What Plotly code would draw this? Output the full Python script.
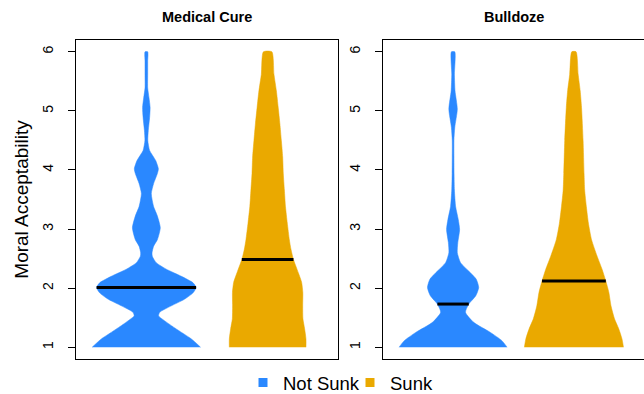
import numpy as np
import plotly.graph_objects as go

# ---------------- data ----------------
panels = ["Medical Cure", "Bulldoze"]
groups = ["Not Sunk", "Sunk"]
positions = [1, 2]
y_ticks = [1, 2, 3, 4, 5, 6]

# density profiles: rating level and violin half-width (x units)
med_notsunk_y = [1.00, 1.14, 1.25, 1.36, 1.47, 1.53, 1.59, 1.70, 1.81, 1.92, 2.01, 2.09, 2.20, 2.32,
                 2.43, 2.54, 2.60, 2.71, 2.82, 3.02, 3.22, 3.38, 3.60, 3.77, 3.94, 4.02, 4.16, 4.33,
                 4.50, 4.67, 4.89, 5.06, 5.22, 5.39, 5.62, 5.84, 6.00]
med_notsunk_w = [0.447, 0.371, 0.290, 0.210, 0.135, 0.101, 0.110, 0.206, 0.313, 0.385, 0.410, 0.385,
                 0.289, 0.165, 0.082, 0.049, 0.047, 0.060, 0.091, 0.115, 0.091, 0.060, 0.041, 0.060,
                 0.091, 0.099, 0.077, 0.027, 0.012, 0.016, 0.027, 0.031, 0.022, 0.011, 0.011, 0.011,
                 0.011]

med_sunk_y = [1.00, 1.14, 1.31, 1.48, 1.70, 1.93, 2.10, 2.26, 2.49, 2.66, 2.82, 3.10, 3.38, 3.66,
              3.94, 4.22, 4.50, 4.78, 5.06, 5.34, 5.62, 6.00]
med_sunk_w = [0.316, 0.316, 0.305, 0.291, 0.289, 0.290, 0.280, 0.253, 0.212, 0.192, 0.179, 0.162,
              0.147, 0.138, 0.129, 0.124, 0.113, 0.101, 0.087, 0.072, 0.052, 0.035]

bull_notsunk_y = [1.00, 1.11, 1.25, 1.42, 1.59, 1.73, 1.87, 2.01, 2.15, 2.26, 2.43, 2.60, 2.77, 2.99,
                  3.16, 3.38, 3.66, 3.94, 4.22, 4.50, 4.72, 5.03, 5.34, 5.62, 6.00]
bull_notsunk_w = [0.447, 0.404, 0.309, 0.171, 0.103, 0.130, 0.188, 0.212, 0.192, 0.144, 0.062, 0.035,
                  0.039, 0.054, 0.043, 0.021, 0.011, 0.008, 0.007, 0.007, 0.014, 0.035, 0.016, 0.011,
                  0.014]

bull_sunk_y = [1.00, 1.14, 1.31, 1.48, 1.70, 1.93, 2.12, 2.32, 2.54, 2.82, 3.10, 3.38, 3.66, 3.94,
               4.50, 5.06, 5.34, 5.62, 6.00]
bull_sunk_w = [0.410, 0.398, 0.371, 0.336, 0.307, 0.289, 0.264, 0.233, 0.192, 0.146, 0.120, 0.103,
               0.089, 0.084, 0.076, 0.063, 0.052, 0.035, 0.018]

# mean ratings
med_means = [2.01, 2.485]
bull_means = [1.73, 2.12]

# ---------------- styling ----------------
colors = {"Not Sunk": "#2A88FF", "Sunk": "#EAA900"}
font_family = "Liberation Sans, Arial, Helvetica, sans-serif"

profiles = {
    "Medical Cure": [(med_notsunk_y, med_notsunk_w), (med_sunk_y, med_sunk_w)],
    "Bulldoze": [(bull_notsunk_y, bull_notsunk_w), (bull_sunk_y, bull_sunk_w)],
}
means = {"Medical Cure": med_means, "Bulldoze": bull_means}

fig = go.Figure()
for pi, panel in enumerate(panels):
    xa = "x" if pi == 0 else "x2"
    ya = "y" if pi == 0 else "y2"
    for gi, grp in enumerate(groups):
        ys, ws = profiles[panel][gi]
        ys = np.array(ys)
        ws = np.array(ws)
        c = positions[gi]
        px = np.concatenate([c + ws, (c - ws)[::-1]])
        py = np.concatenate([ys, ys[::-1]])
        fig.add_trace(go.Scatter(
            x=px, y=py, mode="lines", fill="toself", fillcolor=colors[grp],
            line=dict(color=colors[grp], width=0.5, shape="spline", smoothing=0.6),
            xaxis=xa, yaxis=ya, showlegend=False, hoverinfo="skip"))
        m = means[panel][gi]
        hw = float(np.interp(m, ys, ws))
        fig.add_trace(go.Scatter(
            x=[c - hw, c + hw], y=[m, m], mode="lines",
            line=dict(color="black", width=3), xaxis=xa, yaxis=ya,
            showlegend=False, hoverinfo="skip"))

# legend entries (one legend box per group so each can be placed)
for gi, grp in enumerate(groups):
    fig.add_trace(go.Scatter(
        x=[None], y=[None], mode="markers", name=grp,
        marker=dict(symbol="square", size=9, color=colors[grp]),
        xaxis="x", yaxis="y", legend="legend" if gi == 0 else "legend2"))

W, H = 644, 394
ML, MR, MT, MB = 76, 0, 40, 35
PW = W - ML - MR
PH = H - MT - MB


def fx(px):
    return (px - ML) / PW


def fy(py):
    return (H - MB - py) / PH


x1 = [fx(76), fx(338)]
x2 = [fx(383), 1.0]

xcommon = dict(range=[0.42, 2.58], showticklabels=False, ticks="", showgrid=False,
               zeroline=False, showline=True, mirror=True, linecolor="black", linewidth=1,
               automargin=False, fixedrange=True)
ycommon = dict(range=[0.8, 6.2], tickvals=y_ticks, ticktext=[str(v) for v in y_ticks],
               ticks="outside", ticklen=7, tickcolor="black", tickangle=-90,
               ticklabelstandoff=9,
               tickfont=dict(size=14, color="black", family=font_family),
               showgrid=False, zeroline=False, showline=True, mirror=True,
               linecolor="black", linewidth=1, automargin=False, fixedrange=True)

legend_common = dict(orientation="h", xanchor="left", yanchor="middle", y=fy(383),
                     font=dict(size=18.5, color="black", family=font_family),
                     bgcolor="rgba(0,0,0,0)", itemwidth=30, borderwidth=0)

fig.update_layout(
    width=W, height=H,
    margin=dict(l=ML, r=MR, t=MT, b=MB, autoexpand=False),
    paper_bgcolor="white", plot_bgcolor="white",
    font=dict(family=font_family, color="black"),
    xaxis=dict(domain=x1, anchor="y", **xcommon),
    xaxis2=dict(domain=x2, anchor="y2", **xcommon),
    yaxis=dict(domain=[0, 1], anchor="x",
               title=dict(text="Moral Acceptability", font=dict(size=19), standoff=6),
               **ycommon),
    yaxis2=dict(domain=[0, 1], anchor="x2", **ycommon),
    showlegend=True,
    legend=dict(x=fx(243), **legend_common),
    legend2=dict(x=fx(350), **legend_common),
    annotations=[
        dict(text="<b>" + panels[0] + "</b>", x=(x1[0] + x1[1]) / 2, y=fy(17),
             xanchor="center", yanchor="middle",
             xref="paper", yref="paper", showarrow=False, font=dict(size=14.5)),
        dict(text="<b>" + panels[1] + "</b>", x=(fx(383) + fx(645)) / 2, y=fy(17),
             xanchor="center", yanchor="middle",
             xref="paper", yref="paper", showarrow=False, font=dict(size=14.5)),
    ],
)

# place the figure at the page origin (remove the browser's default body margin)
fig.write_html("out.html", config={"displayModeBar": False},
               post_script="document.body.style.margin='0';document.body.style.overflow='hidden';")
